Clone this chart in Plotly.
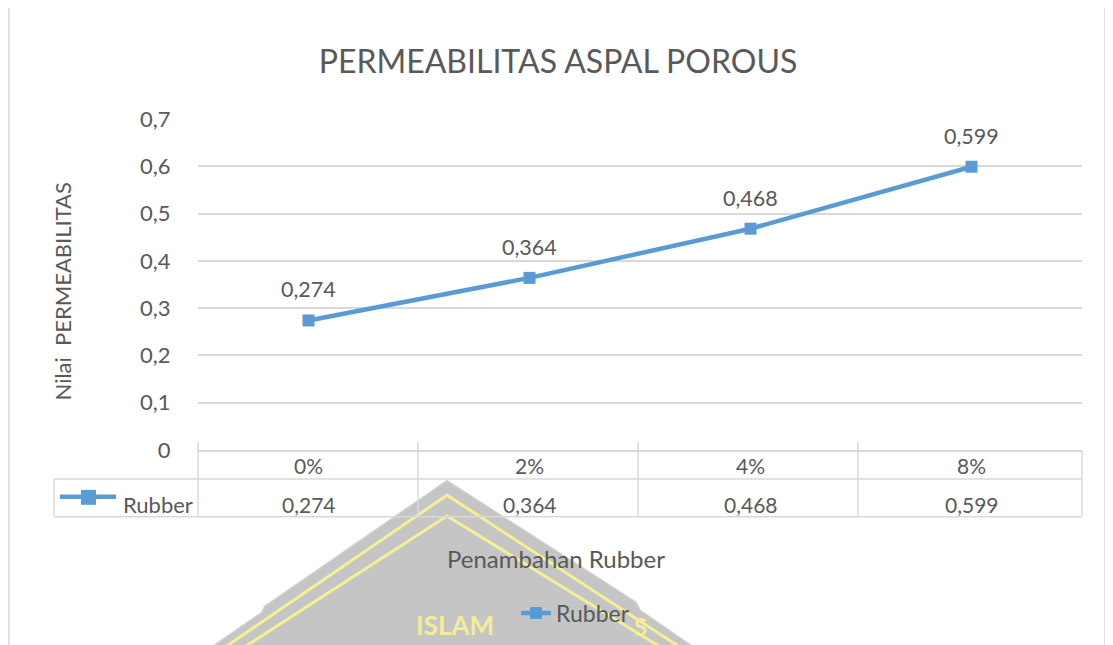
import plotly.graph_objects as go

categories = ["0%", "2%", "4%", "8%"]
rubber = [0.274, 0.364, 0.468, 0.599]
series_name = "Rubber"
title_text = "PERMEABILITAS ASPAL POROUS"
y_title = "Nilai\u00a0 PERMEABILITAS"
x_title = "Penambahan Rubber"

OFF = 8  # default page body margin
W, H = 1113 - OFF, 645 - OFF
# plot area in screen pixels
SL, SR, ST, SB = 198, 1082, 119, 451
FONT = "Lato"
TXT = "#595959"
GRID = "#d9d9d9"
BLUE = "#5b9bd5"
YEL = "rgba(248,240,150,0.95)"


def px(x):
    return (x - SL) / (SR - SL)


def py(y):
    return (SB - y) / (SB - ST)


def fmt(v):
    return f"{v:.3f}".replace(".", ",")


fig = go.Figure()
fig.add_trace(go.Scatter(
    x=categories, y=rubber, mode="lines+markers", name=series_name,
    line=dict(color=BLUE, width=4.5),
    marker=dict(symbol="square", size=12, color=BLUE),
    showlegend=True,
))

shapes = []
# watermark (scan artifact) - grey diamond with pale yellow outlines
wm = [(447, 482), (265, 608), (262, 614), (210, 650), (695, 650), (640, 612), (636, 604)]
path = "M " + " L ".join(f"{px(a)},{py(b)}" for a, b in wm) + " Z"
shapes.append(dict(type="path", xref="paper", yref="paper", path=path,
                   fillcolor="rgba(150,150,150,0.55)", line=dict(color="rgba(200,200,200,0.8)", width=2),
                   layer="below"))
for off in (11, 27):
    pts = [(210 + off * 1.2, 650), (447, 482 + off * 1.3), (695 - off * 1.2, 650)]
    p = "M " + " L ".join(f"{px(a)},{py(b)}" for a, b in pts)
    shapes.append(dict(type="path", xref="paper", yref="paper", path=p,
                       line=dict(color=YEL, width=3), layer="below"))

# outer chart border
shapes.append(dict(type="rect", xref="paper", yref="paper", x0=px(9), x1=px(1105), y0=py(665), y1=py(6),
                   line=dict(color=GRID, width=1.5), layer="below"))


# data table lines
def hline(x0, x1, y):
    shapes.append(dict(type="line", xref="paper", yref="paper", x0=px(x0), x1=px(x1), y0=py(y), y1=py(y),
                       line=dict(color=GRID, width=1.5)))


def vline(x, y0, y1):
    shapes.append(dict(type="line", xref="paper", yref="paper", x0=px(x), x1=px(x), y0=py(y0), y1=py(y1),
                       line=dict(color=GRID, width=1.5)))


hline(54, 1082, 480)
hline(54, 1082, 518)
vline(54, 480, 518)
vline(1082, 451, 518)
for xb in (198, 418, 638, 858):
    vline(xb, 443, 518)

# legend key inside table
shapes.append(dict(type="line", xref="paper", yref="paper", x0=px(60), x1=px(116), y0=py(498), y1=py(498),
                   line=dict(color=BLUE, width=4.5)))
shapes.append(dict(type="rect", xref="paper", yref="paper", x0=px(81), x1=px(96), y0=py(506), y1=py(491),
                   fillcolor=BLUE, line=dict(width=0)))


def note(**kw):
    kw.setdefault("showarrow", False)
    kw.setdefault("xanchor", "center")
    kw.setdefault("yanchor", "middle")
    return kw


annotations = []
for c, v in zip(categories, rubber):
    annotations.append(note(x=c, y=v, xref="x", yref="y", text=fmt(v),
                            yshift=31, font=dict(family=FONT, size=21.5, color=TXT)))
    annotations.append(note(x=c, y=py(467), xref="x", yref="paper", text=c,
                            font=dict(family=FONT, size=21, color=TXT)))
    annotations.append(note(x=c, y=py(506), xref="x", yref="paper", text=fmt(v),
                            font=dict(family=FONT, size=21, color=TXT)))

annotations.append(note(x=px(121), y=py(506), xref="paper", yref="paper", text=series_name,
                        xanchor="left", font=dict(family=FONT, size=22, color=TXT)))
annotations.append(note(x=px(62), y=py(292), xref="paper", yref="paper", text=y_title,
                        textangle=-90, font=dict(family=FONT, size=22, color=TXT)))
annotations.append(note(x=px(556), y=py(560), xref="paper", yref="paper", text=x_title,
                        font=dict(family=FONT, size=24, color=TXT)))
# watermark lettering near the bottom edge
annotations.append(note(x=px(455), y=py(645), xref="paper", yref="paper", text="<b>ISLAM</b>",
                        yanchor="bottom", font=dict(family=FONT, size=26, color=YEL)))
annotations.append(note(x=px(640), y=py(645), xref="paper", yref="paper", text="<b>S</b>",
                        yanchor="bottom", font=dict(family=FONT, size=24, color=YEL)))

fig.update_layout(
    width=W, height=H,
    margin=dict(l=SL - OFF, r=W - (SR - OFF), t=ST - OFF, b=H - (SB - OFF), pad=0),
    paper_bgcolor="white", plot_bgcolor="white",
    separators=",.",
    font=dict(family=FONT, color=TXT),
    title=dict(text=title_text, x=(558 - OFF) / W, xref="container", xanchor="center",
               y=1 - (62 - OFF) / H, yanchor="middle", font=dict(family=FONT, size=32, color=TXT)),
    xaxis=dict(type="category", range=[-0.5, 3.5], showticklabels=False, showgrid=False,
               showline=True, linecolor=GRID, linewidth=1.5, zeroline=False, fixedrange=True),
    yaxis=dict(range=[0, 0.7], dtick=0.1, showgrid=True, gridcolor=GRID, gridwidth=1.5,
               zeroline=False, showline=False, ticks="outside", ticklen=22, tickcolor="rgba(0,0,0,0)",
               tickfont=dict(family=FONT, size=22, color=TXT)),
    legend=dict(orientation="h", x=px(516), xanchor="left", y=py(613), yanchor="middle",
                font=dict(family=FONT, size=23, color=TXT), bgcolor="rgba(0,0,0,0)"),
    shapes=shapes, annotations=annotations,
)

fig.write_html("out.html")
